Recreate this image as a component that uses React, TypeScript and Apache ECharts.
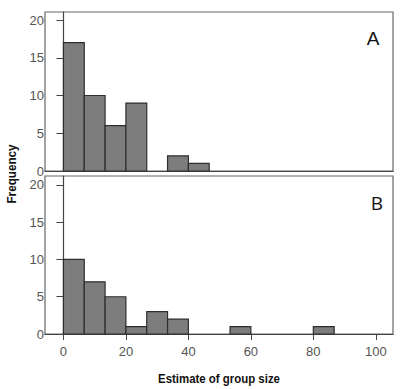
import React, { useEffect, useRef } from "react";
import * as echarts from "echarts";

// Histogram bins (start, end) in group-size units
const binStarts = [0, 6.667, 13.333, 20, 26.667, 33.333, 40, 46.667, 53.333, 60, 66.667, 73.333, 80];
const binEnds = [6.667, 13.333, 20, 26.667, 33.333, 40, 46.667, 53.333, 60, 66.667, 73.333, 80, 86.667];
const countsA = [17, 10, 6, 9, 0, 2, 1, 0, 0, 0, 0, 0, 0];
const countsB = [10, 7, 5, 1, 3, 2, 0, 0, 1, 0, 0, 0, 1];
const xTickValues = [0, 20, 40, 60, 80, 100];
const yTickValues = [0, 5, 10, 15, 20];
const panelLabels = ["A", "B"];

const FONT = "'Liberation Sans', Arial, sans-serif";

function buildData(counts: number[]) {
  return counts
    .map((c, i) => [binStarts[i], binEnds[i], c])
    .filter((d) => d[2] > 0);
}

function renderItem(params: any, api: any) {
  const x0 = api.value(0);
  const x1 = api.value(1);
  const y = api.value(2);
  const p0 = api.coord([x0, 0]);
  const p1 = api.coord([x1, y]);
  return {
    type: "rect",
    shape: { x: p0[0], y: p1[1], width: p1[0] - p0[0], height: p0[1] - p1[1] },
    style: { fill: "#7d7d7d", stroke: "#2e2e2e", lineWidth: 1.2 },
  };
}

export default function App() {
  const ref = useRef<HTMLDivElement>(null);
  useEffect(() => {
    if (!ref.current) return;
    const chart = echarts.init(ref.current, undefined, { renderer: "svg" });
    const axisLabelStyle = { color: "#555", fontSize: 13, fontFamily: FONT };
    const makeX = (idx: number, showLabels: boolean) => ({
      type: "value" as const,
      gridIndex: idx,
      min: -5.9,
      max: 105.5,
      splitLine: { show: false },
      axisLine: { show: true, onZero: false, lineStyle: { color: "#444", width: 1.2 } },
      axisTick: {
        show: showLabels,
        length: 6,
        customValues: xTickValues,
        lineStyle: { color: "#444" },
      },
      axisLabel: {
        show: showLabels,
        customValues: xTickValues,
        margin: 11,
        ...axisLabelStyle,
      },
    });
    const makeY = (idx: number, max: number) => ({
      type: "value" as const,
      gridIndex: idx,
      min: 0,
      max,
      splitLine: { show: false },
      axisLine: { show: true, lineStyle: { color: "#444", width: 1.2 } },
      axisTick: { show: true, length: 7, customValues: yTickValues, lineStyle: { color: "#444" } },
      axisLabel: { customValues: yTickValues, margin: 1, ...axisLabelStyle },
    });
    chart.setOption({
      animation: false,
      backgroundColor: "#fff",
      grid: [
        { left: 45, top: 12, width: 348, height: 159, show: true, borderColor: "#666", borderWidth: 1.2, backgroundColor: "transparent" },
        { left: 45, top: 176, width: 348, height: 158, show: true, borderColor: "#666", borderWidth: 1.2, backgroundColor: "transparent" },
      ],
      xAxis: [makeX(0, false), makeX(1, true)],
      yAxis: [makeY(0, 21.06), makeY(1, 21.2)],
      series: [
        {
          type: "custom",
          xAxisIndex: 0,
          yAxisIndex: 0,
          renderItem,
          encode: { x: [0, 1], y: 2 },
          data: buildData(countsA),
        },
        {
          type: "custom",
          xAxisIndex: 1,
          yAxisIndex: 1,
          renderItem,
          encode: { x: [0, 1], y: 2 },
          data: buildData(countsB),
        },
      ],
      graphic: [
        {
          type: "text",
          x: 373,
          y: 38,
          style: { text: panelLabels[0], fontSize: 19, fontFamily: "Arial, 'Liberation Sans', sans-serif", fill: "#111", align: "center", verticalAlign: "middle" },
        },
        {
          type: "text",
          x: 377,
          y: 203,
          style: { text: panelLabels[1], fontSize: 19, fontFamily: "'Open Sans', 'Noto Sans', sans-serif", fill: "#111", align: "center", verticalAlign: "middle" },
        },
        {
          type: "text",
          x: 12,
          y: 174,
          rotation: Math.PI / 2,
          scaleX: 0.9,
          style: { text: "Frequency", fontSize: 13, fontWeight: "bold", fontFamily: FONT, fill: "#111", align: "center", verticalAlign: "middle" },
        },
        {
          type: "text",
          x: 219,
          y: 379,
          scaleX: 0.88,
          style: { text: "Estimate of group size", fontSize: 13, fontWeight: "bold", fontFamily: FONT, fill: "#111", align: "center", verticalAlign: "middle" },
        },
      ],
    });
    return () => chart.dispose();
  }, []);
  return <div ref={ref} style={{ width: 403, height: 389, position: "absolute", left: 0, top: 0 }} />;
}
